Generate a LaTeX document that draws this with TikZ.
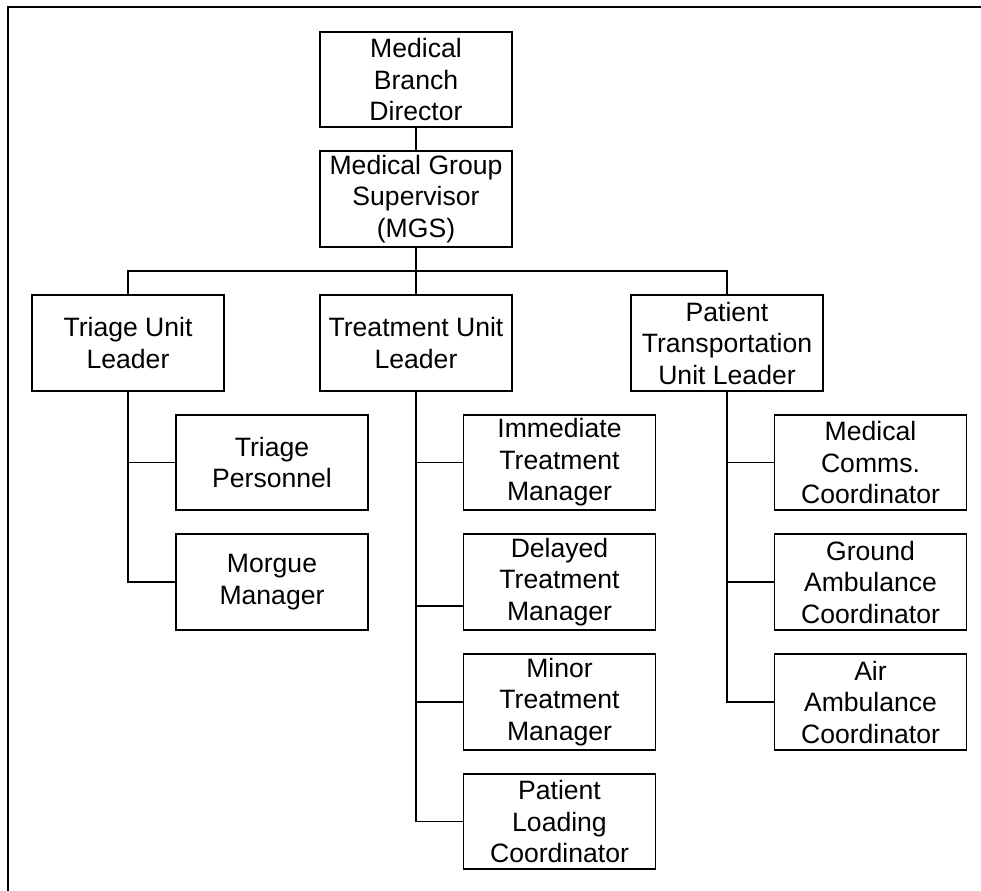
\documentclass[tikz,border=0pt]{standalone}
\usepackage{fontspec}
\setmainfont{Liberation Sans}
\usepackage{tikz}
\usetikzlibrary{positioning,calc}

\tikzset{
	unitbox/.style={draw, line width=1.3pt, minimum width=4.8cm, minimum height=2.38cm, inner sep=0pt, align=center, font=\fontsize{18.9}{22.4}\selectfont},
	link/.style={line width=1pt}
}

\begin{document}
\begin{tikzpicture}[x=0.025cm, y=-0.025cm]
		\useasboundingbox (0,0) rectangle (981,890);
		\draw[line width=1.4pt] (8,900) |- (990,7);

		% command levels
		\node[unitbox] (dir) at (416,79.5) {Medical\\Branch\\Director};
		\node[unitbox] (mgs) at (416,199) {Medical Group\\Supervisor\\(MGS)};

		\node[unitbox] (tri) at (128,343) {Triage Unit\\Leader};
		\node[unitbox] (trt) at (416,343) {Treatment Unit\\Leader};
		\node[unitbox] (ptl) at (727,343) {Patient\\Transportation\\Unit Leader};

		% triage unit
		\node[unitbox] (tpers) at (272,462.5) {Triage\\Personnel};
		\node[unitbox] (morg) at (272,582) {Morgue\\Manager};

		% treatment unit
		\node[unitbox] (imm) at (559.5,462.5) {Immediate\\Treatment\\Manager};
		\node[unitbox] (dly) at (559.5,582) {Delayed\\Treatment\\Manager};
		\node[unitbox] (mnr) at (559.5,702) {Minor\\Treatment\\Manager};
		\node[unitbox] (load) at (559.5,821.5) {Patient\\Loading\\Coordinator};

		% transportation unit
		\node[unitbox] (comms) at (870.5,462.5) {Medical\\Comms.\\Coordinator};
		\node[unitbox] (gnd) at (870.5,582) {Ground\\Ambulance\\Coordinator};
		\node[unitbox] (air) at (870.5,702) {Air\\Ambulance\\Coordinator};

		\coordinate (bus) at (416,271);

		\draw[link] (dir) -- (mgs);
		\draw[link] (mgs) -- (trt);
		\draw[link] (tri.north) |- (bus) -| (ptl.north);

		\draw[link] (tri.south) |- (tpers.west);
		\draw[link] (tri.south) |- (morg.west);

		\draw[link] (trt.south) |- (imm.west);
		\draw[link] (trt.south) |- ([yshift=-0.6cm]dly.west);
		\draw[link] (trt.south) |- (mnr.west);
		\draw[link] (trt.south) |- (load.west);

		\draw[link] (ptl.south) |- (comms.west);
		\draw[link] (ptl.south) |- (gnd.west);
		\draw[link] (ptl.south) |- (air.west);
	\end{tikzpicture}
\end{document}
